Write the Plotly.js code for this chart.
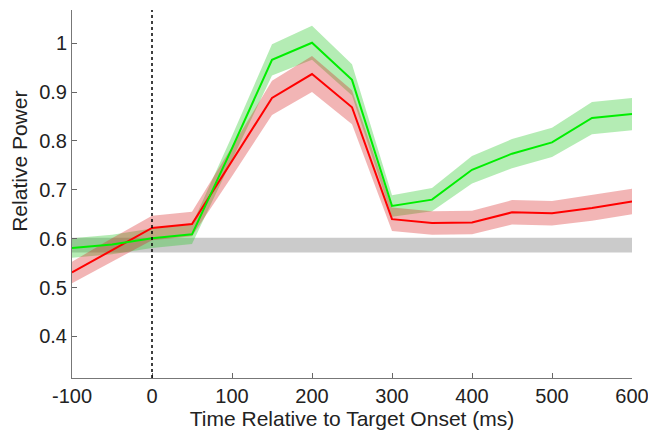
<!DOCTYPE html>
<html>
<head>
<meta charset="utf-8">
<script src="https://cdn.plot.ly/plotly-3.0.1.min.js"></script>
<style>html,body{margin:0;padding:0;background:#fff;}#chart{width:648px;height:432px;}</style>
</head>
<body>
<div id="chart"></div>
<script>
var time = [-100, -50, 0, 50, 100, 150, 200, 250, 300, 350, 400, 450, 500, 550, 600];
var greenMean = [0.581, 0.588, 0.601, 0.609, 0.785, 0.966, 1.001, 0.925, 0.667, 0.680, 0.741, 0.774, 0.797, 0.847, 0.855];
var greenErr  = [0.020, 0.020, 0.020, 0.020, 0.025, 0.032, 0.035, 0.032, 0.022, 0.024, 0.028, 0.030, 0.030, 0.033, 0.033];
var redMean   = [0.531, 0.577, 0.622, 0.630, 0.758, 0.888, 0.937, 0.869, 0.640, 0.632, 0.633, 0.654, 0.652, 0.663, 0.676];
var redErr    = [0.022, 0.024, 0.025, 0.025, 0.030, 0.035, 0.037, 0.035, 0.024, 0.024, 0.024, 0.025, 0.025, 0.026, 0.026];
var baselineX = [-100, 600];
var baselineLow = [0.572, 0.572];
var baselineHigh = [0.602, 0.602];
var xTicks = [-100, 0, 100, 200, 300, 400, 500, 600];
var xTickLabels = ['-100', '0', '100', '200', '300', '400', '500', '600'];
var yTicks = [0.4, 0.5, 0.6, 0.7, 0.8, 0.9, 1];
var yTickLabels = ['0.4', '0.5', '0.6', '0.7', '0.8', '0.9', '1'];

function band(x, m, e) {
  var xs = x.slice(), ys = [];
  for (var i = 0; i < x.length; i++) ys.push(m[i] + e[i]);
  for (var j = x.length - 1; j >= 0; j--) { xs.push(x[j]); ys.push(m[j] - e[j]); }
  return {x: xs, y: ys};
}
var gB = band(time, greenMean, greenErr);
var rB = band(time, redMean, redErr);

var traces = [
  {x: baselineX.concat(baselineX.slice().reverse()), y: baselineHigh.concat(baselineLow.slice().reverse()),
   fill: 'toself', fillcolor: '#cbcbcb', line: {width: 0}, mode: 'lines', hoverinfo: 'skip'},
  {x: gB.x, y: gB.y, fill: 'toself', fillcolor: 'rgba(40,200,40,0.35)', line: {width: 0}, mode: 'lines', hoverinfo: 'skip'},
  {x: rB.x, y: rB.y, fill: 'toself', fillcolor: 'rgba(215,30,30,0.33)', line: {width: 0}, mode: 'lines', hoverinfo: 'skip'},
  {x: time, y: redMean, mode: 'lines', line: {color: '#ff0000', width: 2}},
  {x: time, y: greenMean, mode: 'lines', line: {color: '#00ee00', width: 2}}
];

var layout = {
  width: 648, height: 432,
  margin: {l: 72, r: 16, t: 10, b: 54},
  showlegend: false,
  paper_bgcolor: '#ffffff', plot_bgcolor: '#ffffff',
  font: {family: 'Liberation Sans, Arial, sans-serif', size: 20, color: '#222'},
  xaxis: {
    range: [-100, 600], tickvals: xTicks, ticktext: xTickLabels, ticks: 'inside', ticklen: 5, tickcolor: '#666',
    showline: true, linecolor: '#777', linewidth: 1, showgrid: false, zeroline: false,
    tickfont: {size: 20}, mirror: false, ticklabeloverflow: 'allow', automargin: false,
    title: {text: 'Time Relative to Target Onset (ms)', font: {size: 21}, standoff: 0}
  },
  yaxis: {
    range: [0.315, 1.068], tickvals: yTicks, ticktext: yTickLabels, ticks: 'inside', ticklen: 5, tickcolor: '#666',
    showline: true, linecolor: '#777', linewidth: 1, showgrid: false, zeroline: false,
    tickfont: {size: 20}, automargin: false
  },
  annotations: [
    {text: 'Relative Power', textangle: -90, xref: 'paper', yref: 'paper', x: -0.093, y: 0.59,
     xanchor: 'center', yanchor: 'middle', showarrow: false, font: {size: 21, color: '#222'}}
  ],
  shapes: [
    {type: 'line', xref: 'x', yref: 'paper', x0: 0, x1: 0, y0: 0, y1: 1,
     line: {color: '#000', width: 1.5, dash: 'dot'}}
  ]
};

Plotly.newPlot('chart', traces, layout, {displayModeBar: false, staticPlot: true});
</script>
</body>
</html>
